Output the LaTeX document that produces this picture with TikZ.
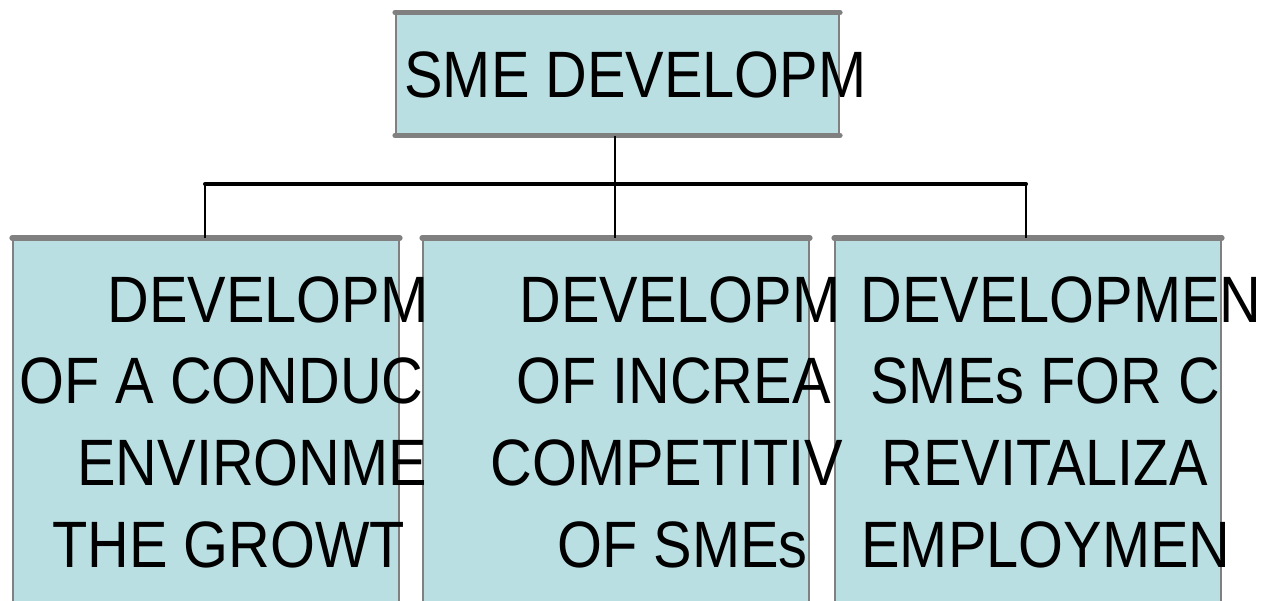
\documentclass[tikz,border=0pt]{standalone}
\usepackage{fontspec}
\setmainfont{Liberation Sans}[FakeStretch=0.88]
\usepackage{tikz}
\usetikzlibrary{positioning}

\definecolor{boxfill}{HTML}{BADFE3}
\definecolor{boxedge}{HTML}{808080}

\tikzset{
  orgbox/.style={draw=boxedge, line width=1pt, fill=boxfill, inner sep=0pt, anchor=north west},
  edgeline/.style={draw=boxedge, line width=2.6pt, line cap=round},
  textline/.style={anchor=base west, inner sep=0pt, font=\fontsize{32.8}{40}\selectfont},
  bus/.style={line width=2pt, line cap=round},
  link/.style={line width=1pt}
}

\begin{document}
\begin{tikzpicture}[x=0.5pt, y=-0.5pt]
				\useasboundingbox (0,0) rectangle (1261,600);
				% boxes
				\node[orgbox, minimum width=221.5pt, minimum height=60.5pt] (top) at (395,12.5) {};
				\node[orgbox, minimum width=193pt, minimum height=185pt] (left) at (12,238) {};
				\node[orgbox, minimum width=193pt, minimum height=185pt] (mid) at (422,238) {};
				\node[orgbox, minimum width=193pt, minimum height=185pt] (right) at (834,238) {};
				\draw[edgeline] (top.north west) -- (top.north east);
				\draw[edgeline] (top.south west) -- (top.south east);
				\foreach \b in {left,mid,right}
					\draw[edgeline] (\b.north west) -- (\b.north east);
				% connectors
				\coordinate (busl) at (205,184);
				\coordinate (busm) at (615,184);
				\coordinate (busr) at (1026,184);
				\draw[bus] (busl) -- (busr);
				\draw[link] (busm |- top.south) -- (busm |- mid.north);
				\draw[link] (busl) -- (busl |- left.north);
				\draw[link] (busr) -- (busr |- right.north);
				% texts
				\node[textline] (ttop) at (404,97) {SME DEVELOPM};
				\node[textline] (l1) at (107,322) {DEVELOPM};
				\node[textline] (l2) at (19,403) {OF A CONDUC};
				\node[textline] (l3) at (77,485) {ENVIRONME};
				\node[textline] (l4) at (52,567) {THE GROWT};
				\node[textline] (m1) at (519,322) {DEVELOPM};
				\node[textline] (m2) at (516,403) {OF INCREA};
				\node[textline] (m3) at (490,485) {COMPETITIV};
				\node[textline] (m4) at (557,567) {OF SMEs};
				\node[textline] (r1) at (860,322) {DEVELOPMEN};
				\node[textline] (r2) at (870,403) {SMEs FOR C};
				\node[textline] (r3) at (881,485) {REVITALIZA};
				\node[textline] (r4) at (861,567) {EMPLOYMEN};
\end{tikzpicture}
\end{document}
